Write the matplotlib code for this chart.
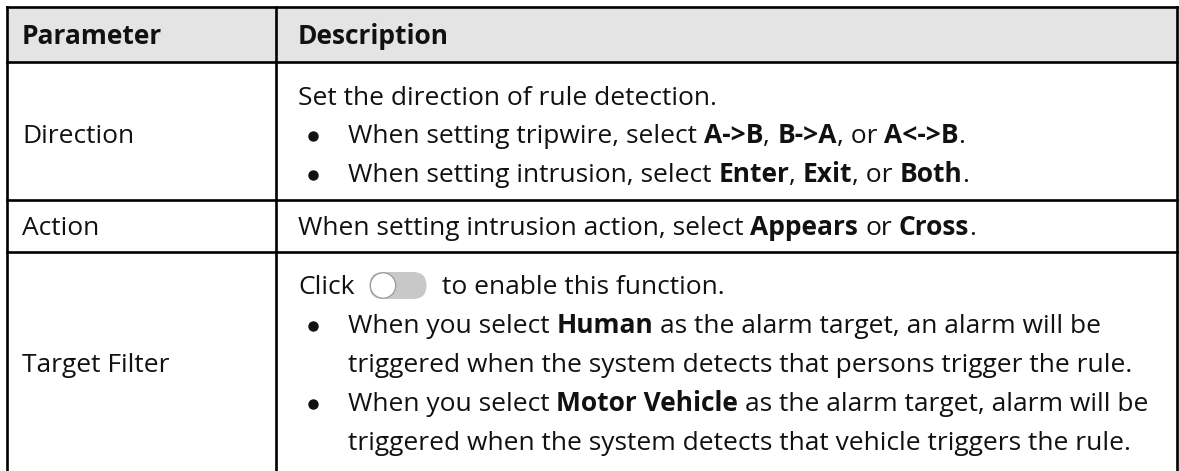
import matplotlib
matplotlib.use("Agg")
import matplotlib.pyplot as plt
from matplotlib.patches import FancyBboxPatch, Circle, Rectangle

# ---------------- data ----------------
header_labels = ["Parameter", "Description"]
param_labels = ["Direction", "Action", "Target Filter"]

TOGGLE = "<toggle>"

direction_lines = [
    ("text", [("Set the direction of rule detection.", False)]),
    ("bullet", [("When setting tripwire, select ", False), ("A->B", True), (", ", False),
                ("B->A", True), (", or ", False), ("A<->B", True), (".", False)]),
    ("bullet", [("When setting intrusion, select ", False), ("Enter", True), (", ", False),
                ("Exit", True), (", or ", False), ("Both", True), (".", False)]),
]
action_lines = [
    ("text", [("When setting intrusion action, select ", False), ("Appears", True),
              (" or ", False), ("Cross", True), (".", False)]),
]
target_lines = [
    ("text", [("Click", False), (TOGGLE, None), ("to enable this function.", False)]),
    ("bullet", [("When you select ", False), ("Human", True),
                (" as the alarm target, an alarm will be", False)]),
    ("cont", [("triggered when the system detects that persons trigger the rule.", False)]),
    ("bullet", [("When you select ", False), ("Motor Vehicle", True),
                (" as the alarm target, alarm will be", False)]),
    ("cont", [("triggered when the system detects that vehicle triggers the rule.", False)]),
]
row_contents = [direction_lines, action_lines, target_lines]

# ---------------- layout (pixels) ----------------
W, H = 1179, 471
X_LEFT, X_DIV, X_RIGHT = 7, 276, 1177
Y_TOP, Y_HEAD = 7, 62
ROW_BOTTOMS = [200, 252, 480]
HEADER_BASE = 44
LINE_BASES = [[105, 143, 182], [235], [294, 333, 372, 411, 450]]
PARAM_BASES = [143, 235, 372]
PAD_PARAM = 22
PAD_DESC = 298
BULLET_X = 313
BULLET_TEXT_X = 348
FONT = "Open Sans"
BOLD = "bold"
TXT = "#111111"
LW = 1.9

fig = plt.figure(figsize=(W / 100, H / 100), dpi=100)
ax = fig.add_axes([0, 0, 1, 1])
ax.set_xlim(0, W)
ax.set_ylim(H, 0)
ax.axis("off")
renderer = fig.canvas.get_renderer()

# fit font size by reference width of a long description line
probe = ax.text(0, 0, "triggered when the system detects that persons trigger the rule.",
                fontsize=20, family=FONT)
w20 = probe.get_window_extent(renderer).width
probe.remove()
FS = 20 * 780 / w20


def twidth(s, bold):
    t = ax.text(0, 0, s, fontsize=FS, family=FONT, fontweight=BOLD if bold else "normal")
    w = t.get_window_extent(renderer).width
    t.remove()
    return w


SPACE = twidth("a a", False) - twidth("aa", False)


def draw_runs(x, yb, runs):
    for s, bold in runs:
        if s == TOGGLE:
            gap = 15
            w, h = 57, 27
            x0 = x + gap
            yc = yb - 8.5
            pill = FancyBboxPatch((x0, yc - h / 2), w, h,
                                  boxstyle=f"round,pad=0,rounding_size={h / 2}",
                                  fc="#c8c8c8", ec="none", zorder=3)
            ax.add_patch(pill)
            ax.add_patch(Circle((x0 + h / 2, yc), h / 2 - 0.8, fc="white",
                                ec="#9a9a9a", lw=0.9, zorder=4))
            x = x0 + w + gap
            continue
        lead = len(s) - len(s.lstrip(" "))
        trail = len(s) - len(s.rstrip(" "))
        core = s.strip(" ")
        x += lead * SPACE
        if core:
            ax.text(x, yb, core, fontsize=FS, family=FONT, color=TXT,
                    fontweight=BOLD if bold else "normal", va="baseline", ha="left")
            x += twidth(core, bold)
        x += trail * SPACE
    return x


# header background
ax.add_patch(Rectangle((X_LEFT, Y_TOP), X_RIGHT - X_LEFT, Y_HEAD - Y_TOP,
                       fc="#e4e4e4", ec="none", zorder=0))

# grid lines
kw = dict(color="black", lw=LW, solid_capstyle="projecting", zorder=5)
ax.plot([X_LEFT, X_RIGHT], [Y_TOP, Y_TOP], **kw)
ax.plot([X_LEFT, X_RIGHT], [Y_HEAD, Y_HEAD], **kw)
for yb in ROW_BOTTOMS[:-1]:
    ax.plot([X_LEFT, X_RIGHT], [yb, yb], **kw)
for xv in (X_LEFT, X_DIV, X_RIGHT):
    ax.plot([xv, xv], [Y_TOP, ROW_BOTTOMS[-1]], **kw)

# header
ax.text(PAD_PARAM, HEADER_BASE, header_labels[0], fontsize=FS, family=FONT,
        fontweight=BOLD, color=TXT, va="baseline")
ax.text(PAD_DESC, HEADER_BASE, header_labels[1], fontsize=FS, family=FONT,
        fontweight=BOLD, color=TXT, va="baseline")

# rows
for label, pb, lines, bases in zip(param_labels, PARAM_BASES, row_contents, LINE_BASES):
    ax.text(PAD_PARAM, pb, label, fontsize=FS, family=FONT, color=TXT, va="baseline")
    for (kind, runs), yb in zip(lines, bases):
        if kind == "text":
            draw_runs(PAD_DESC, yb, runs)
        else:
            if kind == "bullet":
                ax.plot([BULLET_X], [yb - 7.5], marker="o", ms=6.5, color=TXT, zorder=6)
            draw_runs(BULLET_TEXT_X, yb, runs)

fig.savefig("out.png", dpi=100, facecolor="white")
